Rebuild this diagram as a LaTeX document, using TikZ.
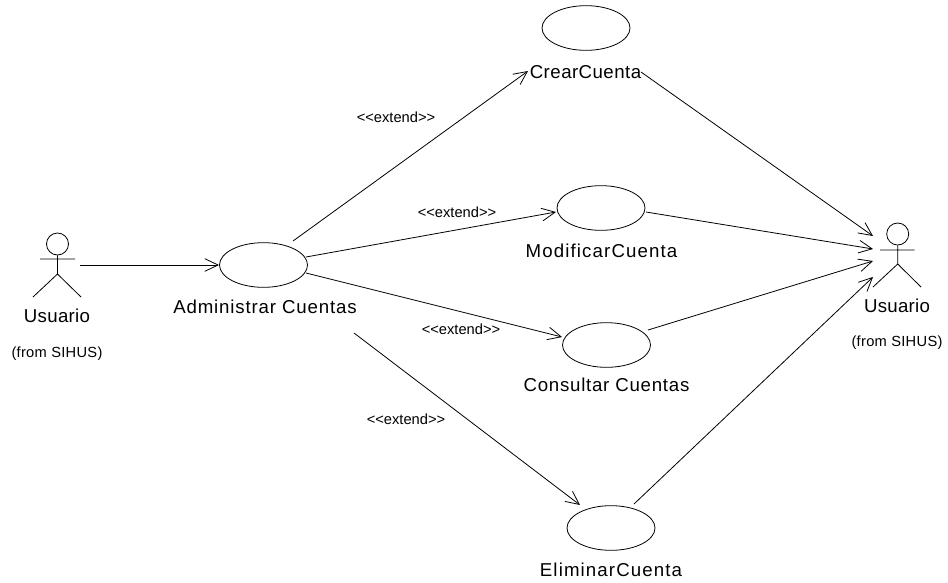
\documentclass[tikz,border=0pt]{standalone}
\usepackage{fontspec}
\setmainfont{Liberation Sans}
\usetikzlibrary{arrows.meta,shapes.geometric}
\tikzset{
  px/.style={x=0.75pt,y=-0.75pt},
  usecase/.style={draw,ellipse,line width=0.6pt,minimum width=66pt,minimum height=33.5pt,inner sep=0pt},
  lbl/.style={inner sep=0pt,font=\fontsize{14}{16}\selectfont\addfontfeature{LetterSpace=#1},anchor=center},
  small/.style={inner sep=0pt,font=\fontsize{11}{13}\selectfont\addfontfeature{LetterSpace=#1},anchor=center},
  small/.default=0,
  conn/.style={line width=0.6pt,-{Straight Barb[length=10pt,width=9.5pt,line width=0.6pt]}},
  limb/.style={line width=0.6pt},
  head/.style={draw,circle,line width=0.6pt,minimum size=16.5pt,inner sep=0pt}
}
\begin{document}
\begin{tikzpicture}[px]
\useasboundingbox (0,0) rectangle (948,582);
% use cases
\node[usecase] (admin) at (263.5,265) {};
\node[usecase] (crear) at (586,28) {};
\node[usecase] (modif) at (601,208) {};
\node[usecase] (consu) at (606.5,345) {};
\node[usecase] (elimi) at (611,528) {};
% labels
\node[lbl=4.5] (ladmin) at (265,307) {Administrar Cuentas};
\node[lbl=2.4] (lcrear) at (585.5,72) {CrearCuenta};
\node[lbl=6] (lmodif) at (601.5,251) {ModificarCuenta};
\node[lbl=4] (lconsu) at (606.5,385) {Consultar Cuentas};
\node[lbl=6] (lelimi) at (611,570) {EliminarCuenta};
\node[lbl=1.5] (lua) at (57,316) {Usuario};
\node[lbl=1.5] (lub) at (897,306) {Usuario};
\node[small=2] (fa) at (57,354) {(from SIHUS)};
\node[small=2] (fb) at (897,343) {(from SIHUS)};
\node[small] (e1) at (396,117) {<{}<extend>{}>};
\node[small] (e2) at (457,212) {<{}<extend>{}>};
\node[small] (e3) at (461,329) {<{}<extend>{}>};
\node[small] (e4) at (406,419) {<{}<extend>{}>};
% left actor
\node[head] (heada) at (57.5,244) {};
\coordinate (hip) at (57.5,274);
\coordinate (al) at (40,259); \coordinate (ar) at (75,259);
\coordinate (fl) at (33,297); \coordinate (fr) at (81,297);
\draw[limb] (heada.south) -- (hip) (al) -- (ar) (fl) -- (hip) -- (fr);
% right actor
\node[head] (headb) at (897.7,234) {};
\coordinate (hipb) at (897.7,264);
\coordinate (bl) at (880,250); \coordinate (br) at (914.5,250);
\coordinate (gl) at (873,287); \coordinate (gr) at (921,287);
\draw[limb] (headb.south) -- (hipb) (bl) -- (br) (gl) -- (hipb) -- (gr);
% connector ends
\coordinate (s0) at (80,265);  \coordinate (t0) at (219,265);
\coordinate (s1) at (293,241); \coordinate (t1) at (528,71);
\coordinate (s2) at (306,257); \coordinate (t2) at (556,212);
\coordinate (s3) at (306,273); \coordinate (t3) at (562,337);
\coordinate (s4) at (354,333); \coordinate (t4) at (580,505);
\coordinate (s5) at (641,72);  \coordinate (t5) at (873,236);
\coordinate (s6) at (646,212); \coordinate (t6) at (873,249);
\coordinate (s7) at (648,330); \coordinate (t7) at (873,261);
\coordinate (s8) at (634,504); \coordinate (t8) at (873,277);
\foreach \i in {0,...,8} \draw[conn] (s\i) -- (t\i);
\end{tikzpicture}
\end{document}
